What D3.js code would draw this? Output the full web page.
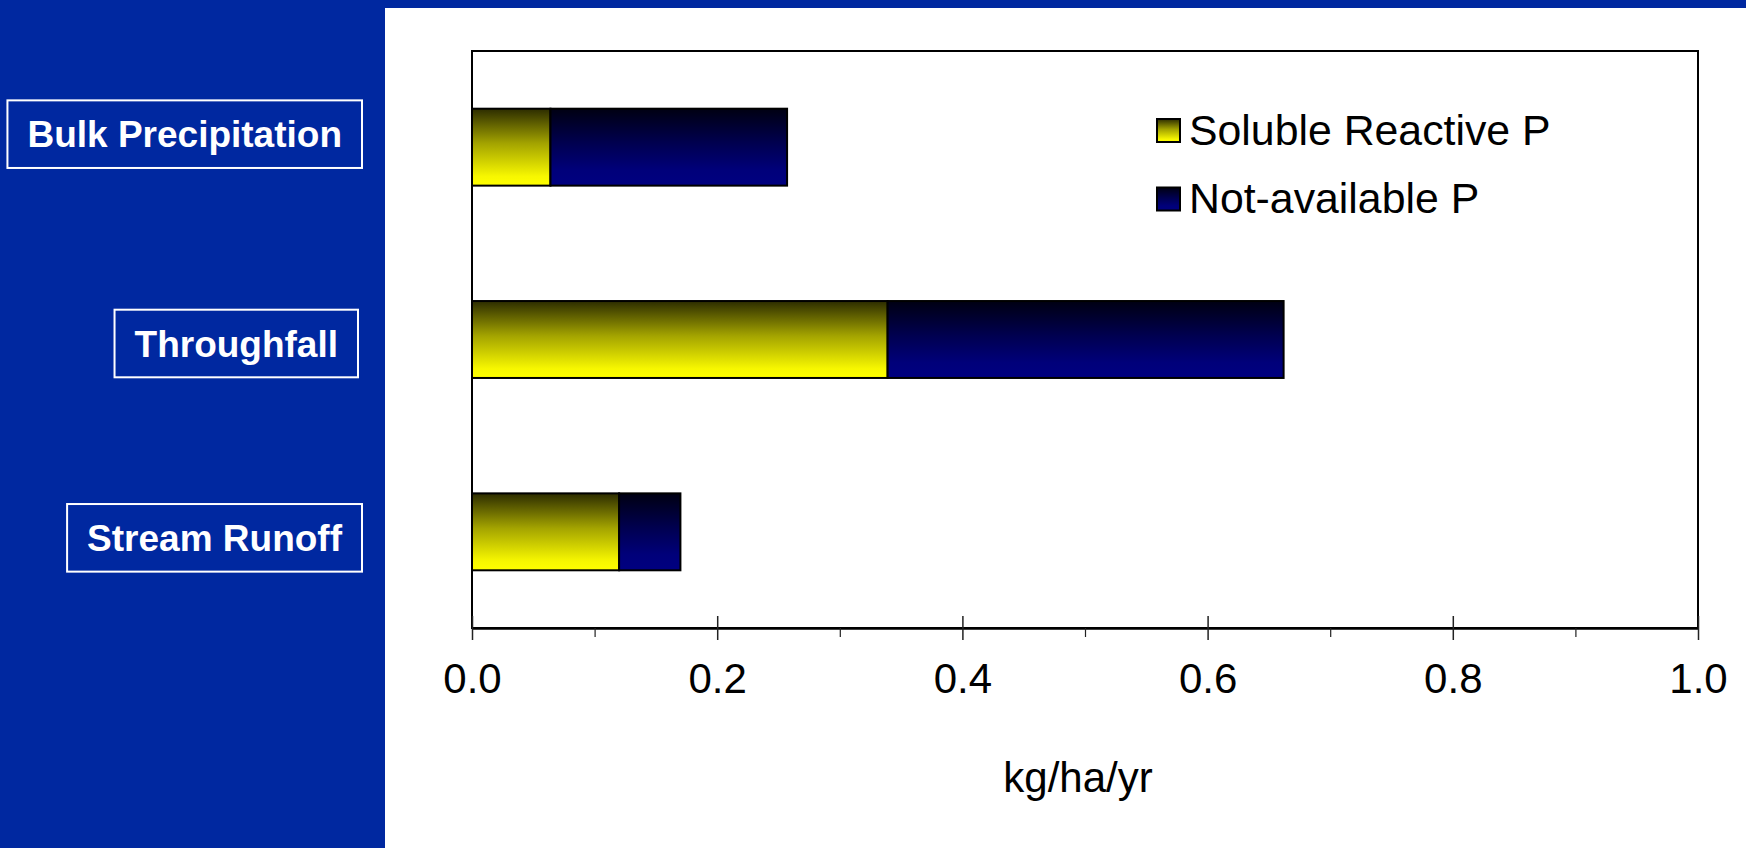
<!DOCTYPE html>
<html>
<head>
<meta charset="utf-8">
<script src="https://cdn.jsdelivr.net/npm/d3@7/dist/d3.min.js"></script>
<style>
  html, body { margin: 0; padding: 0; background: #0028a0; }
  svg { display: block; }
  text { font-family: "Liberation Sans", Arial, Helvetica, sans-serif; }
</style>
</head>
<body>
<svg id="chart" width="1746" height="848"></svg>
<script>
// Phosphorus fluxes (kg/ha/yr) by pathway
const categories = ["Bulk Precipitation", "Throughfall", "Stream Runoff"];
const solubleReactiveP = [0.064, 0.339, 0.120];
const notAvailableP = [0.193, 0.323, 0.050];
const seriesNames = ["Soluble Reactive P", "Not-available P"];
const majorTicks = [0.0, 0.2, 0.4, 0.6, 0.8, 1.0];
const minorTicks = [0.1, 0.3, 0.5, 0.7, 0.9];
const axisTitle = "kg/ha/yr";

// layout
const W = 1746, H = 848;
const panel = { x: 385, y: 8 };
const plot = { left: 472, right: 1698, top: 51, bottom: 628 };
// small nudges of the category tags relative to their bars
const tagShift = [{ dx: 0, dy: -13 }, { dx: -4, dy: 4 }, { dx: 0, dy: 6 }];

const svg = d3.select("#chart");

// gradient fills: dark at the top fading into the series colour
const defs = svg.append("defs");
const gradients = [
  { id: "gradSRP", stops: [["0%", "#2c2c00"], ["45%", "#a3a300"], ["88%", "#f7f700"], ["100%", "#ffff00"]] },
  { id: "gradNAP", stops: [["0%", "#000012"], ["45%", "#000050"], ["80%", "#00007a"], ["100%", "#000080"]] }
];
gradients.forEach(g => {
  const lg = defs.append("linearGradient")
    .attr("id", g.id).attr("x1", 0).attr("y1", 0).attr("x2", 0).attr("y2", 1);
  g.stops.forEach(([o, c]) => lg.append("stop").attr("offset", o).attr("stop-color", c));
});
const fills = ["url(#gradSRP)", "url(#gradNAP)"];

// backgrounds
svg.append("rect").attr("width", W).attr("height", H).attr("fill", "#0028a0");
svg.append("rect").attr("x", panel.x).attr("y", panel.y)
  .attr("width", W - panel.x).attr("height", H - panel.y).attr("fill", "#ffffff");

// scales
const x = d3.scaleLinear().domain([0, 1]).range([plot.left, plot.right]);
const y = d3.scaleBand().domain(categories).range([plot.top, plot.bottom])
  .paddingInner(0.6).paddingOuter(0.3);

// stacked data
const rows = categories.map((c, i) => ({ cat: c, srp: solubleReactiveP[i], nap: notAvailableP[i] }));
const stacked = d3.stack().keys(["srp", "nap"])(rows);

// plot frame
svg.append("rect")
  .attr("x", plot.left).attr("y", plot.top)
  .attr("width", plot.right - plot.left).attr("height", plot.bottom - plot.top)
  .attr("fill", "none").attr("stroke", "#000").attr("stroke-width", 2);

// bars
svg.append("g").selectAll("g").data(stacked).join("g")
  .attr("fill", (d, i) => fills[i])
  .selectAll("rect").data(d => d).join("rect")
  .attr("x", d => x(d[0]))
  .attr("y", d => y(d.data.cat))
  .attr("width", d => x(d[1]) - x(d[0]))
  .attr("height", y.bandwidth())
  .attr("stroke", "#000").attr("stroke-width", 2);

// x axis: major ticks cross the axis line, minor ticks point outward
const axisMajor = d3.axisBottom(x).tickValues(majorTicks)
  .tickFormat(d3.format(".1f")).tickSizeInner(12).tickSizeOuter(0).tickPadding(23);
const gx = svg.append("g").attr("transform", `translate(0,${plot.bottom})`).call(axisMajor);
gx.select(".domain").attr("stroke", "#000").attr("stroke-width", 2.5);
gx.selectAll(".tick line").attr("y1", -12).attr("y2", 12).attr("stroke", "#222").attr("stroke-width", 1.5);
gx.selectAll(".tick text").attr("font-size", 42).attr("fill", "#000")
  .style("font-family", '"Liberation Sans", Arial, sans-serif');

const axisMinor = d3.axisBottom(x).tickValues(minorTicks).tickFormat("").tickSizeInner(9).tickSizeOuter(0);
const gm = svg.append("g").attr("transform", `translate(0,${plot.bottom})`).call(axisMinor);
gm.select(".domain").remove();
gm.selectAll(".tick line").attr("stroke", "#222").attr("stroke-width", 1.2);

// axis title
svg.append("text")
  .attr("x", x(0.5) - 7).attr("y", 792)
  .attr("text-anchor", "middle").attr("font-size", 42).attr("fill", "#000")
  .text(axisTitle);

// legend
const legend = svg.append("g");
seriesNames.forEach((name, i) => {
  const ly = 119 + i * 68.5;
  legend.append("rect").attr("x", 1157).attr("y", ly).attr("width", 23).attr("height", 23)
    .attr("fill", fills[i]).attr("stroke", "#000").attr("stroke-width", 2);
  legend.append("text").attr("x", 1189).attr("y", ly + 25.5)
    .attr("font-size", 42.8).attr("fill", "#000").text(name);
});

// category tags on the blue side panel
const tags = svg.append("g");
categories.forEach((c, i) => {
  const cy = y(c) + y.bandwidth() / 2 + tagShift[i].dy;
  const right = 342 + tagShift[i].dx;
  const t = tags.append("text")
    .attr("x", right).attr("y", cy + 13.3)
    .attr("text-anchor", "end")
    .attr("font-size", 37).attr("font-weight", "bold").attr("fill", "#fff")
    .text(c);
  const w = t.node().getComputedTextLength();
  tags.insert("rect", "text")
    .attr("x", right - w - 20).attr("y", cy - 33.8)
    .attr("width", w + 40).attr("height", 67.6)
    .attr("fill", "none").attr("stroke", "#fff").attr("stroke-width", 2);
});
</script>
</body>
</html>
